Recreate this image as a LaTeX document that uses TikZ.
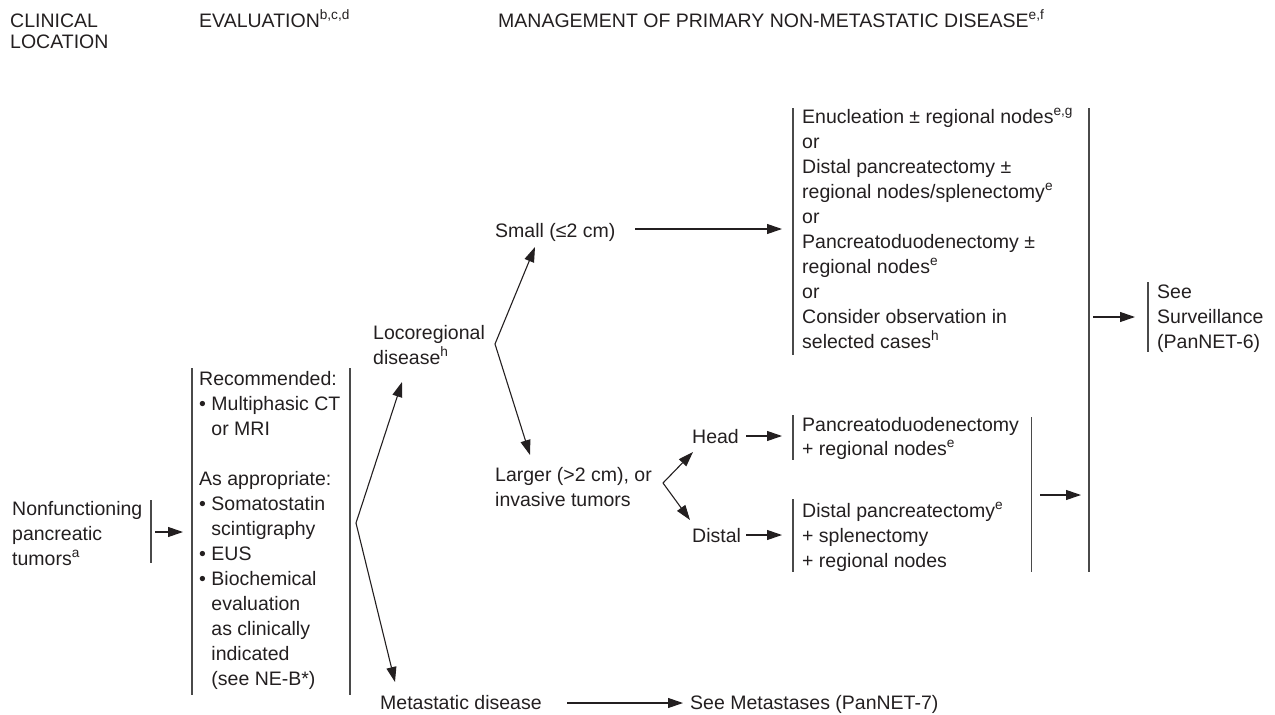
\documentclass[tikz,border=0pt]{standalone}
\usepackage{fontspec}
\setmainfont{Liberation Sans}
\usetikzlibrary{arrows.meta}
\definecolor{ink}{HTML}{231F20}
\definecolor{rulegray}{HTML}{4A4A4A}
% multi-line text block whose baseline is that of its first line
\newcommand{\mlines}[1]{\begin{tabular}[t]{@{}l@{}}#1\end{tabular}}
% indent matching a bullet and its space
\newcommand{\bul}{\hphantom{\textbullet\ }}

\begin{document}
\begin{tikzpicture}[x=1pt,y=-1pt,
  txt/.style={anchor=base west, inner sep=0pt, text=ink, font=\fontsize{19.5}{25}\selectfont},
  rule/.style={draw=rulegray, line width=1.1pt},
  arr/.style={draw=ink, line width=1.1pt, -{Triangle[length=15pt,width=10pt]}},
]
\useasboundingbox (0,0) rectangle (1275,715);

% column headings
\node[txt, font=\fontsize{19.5}{21.5}\selectfont] (hclin) at (10,27) {\mlines{CLINICAL\\LOCATION}};
\node[txt] (heval) at (199,27) {EVALUATION\textsuperscript{b,c,d}};
\node[txt] (hmgmt) at (498,27) {MANAGEMENT OF PRIMARY NON-METASTATIC DISEASE\textsuperscript{e,f}};

% text blocks
\node[txt] (tumors) at (12,515) {\mlines{Nonfunctioning\\pancreatic\\tumors\textsuperscript{a}}};
\node[txt] (evaltext) at (199,385) {\mlines{Recommended:\\ \textbullet\ Multiphasic CT\\ \bul or MRI\\ \\ As appropriate:\\ \textbullet\ Somatostatin\\ \bul scintigraphy\\ \textbullet\ EUS\\ \textbullet\ Biochemical\\ \bul evaluation\\ \bul as clinically\\ \bul indicated\\ \bul (see NE-B*)}};
\node[txt] (loco) at (373,339) {\mlines{Locoregional\\disease\textsuperscript{h}}};
\node[txt] (small) at (495,237) {Small (≤2 cm)};
\node[txt] (smallopts) at (802,123) {\mlines{Enucleation ± regional nodes\textsuperscript{e,g}\\or\\Distal pancreatectomy ±\\regional nodes/splenectomy\textsuperscript{e}\\or\\Pancreatoduodenectomy ±\\regional nodes\textsuperscript{e}\\or\\Consider observation in\\selected cases\textsuperscript{h}}};
\node[txt] (larger) at (495,481) {\mlines{Larger (>2 cm), or\\invasive tumors}};
\node[txt] (head) at (692,443) {Head};
\node[txt] (distal) at (692,542) {Distal};
\node[txt, font=\fontsize{19.5}{24}\selectfont] (headopts) at (802,431) {\mlines{Pancreatoduodenectomy\\+ regional nodes\textsuperscript{e}}};
\node[txt] (distopts) at (802,517) {\mlines{Distal pancreatectomy\textsuperscript{e}\\+ splenectomy\\+ regional nodes}};
\node[txt] (surv) at (1157,298) {\mlines{See\\Surveillance\\(PanNET-6)}};
\node[txt] (meta) at (380,709) {Metastatic disease};
\node[txt] (seemeta) at (690,709) {See Metastases (PanNET-7)};

% bracket rules
\coordinate (tb1) at (151,500);  \coordinate (tb2) at (151,563);
\coordinate (el1) at (192,368);  \coordinate (el2) at (192,695);
\coordinate (er1) at (350,368);  \coordinate (er2) at (350,695);
\coordinate (sb1) at (793,108);  \coordinate (sb2) at (793,355);
\coordinate (hb1) at (793,415);  \coordinate (hb2) at (793,460);
\coordinate (db1) at (793,499);  \coordinate (db2) at (793,572);
\coordinate (hd1) at (1031.5,417); \coordinate (hd2) at (1031.5,572);
\coordinate (bb1) at (1089,108); \coordinate (bb2) at (1089,572);
\coordinate (vb1) at (1148,282); \coordinate (vb2) at (1148,352);
\foreach \a/\b in {tb1/tb2, el1/el2, er1/er2, sb1/sb2, hb1/hb2, db1/db2, hd1/hd2, bb1/bb2, vb1/vb2}
  \draw[rule] (\a) -- (\b);

% forks
\coordinate (fk1) at (356,523);
\coordinate (fk1u) at (402,382);
\coordinate (fk1d) at (395,682);
\coordinate (fk2) at (495,344);
\coordinate (fk2u) at (535,247);
\coordinate (fk2d) at (530,455);
\coordinate (fk3) at (663,483);
\coordinate (fk3u) at (693,452);
\coordinate (fk3d) at (690,520);
\draw[arr] (fk1) -- (fk1u);
\draw[arr] (fk1) -- (fk1d);
\draw[arr] (fk2) -- (fk2u);
\draw[arr] (fk2) -- (fk2d);
\draw[arr] (fk3) -- (fk3u);
\draw[arr] (fk3) -- (fk3d);

% straight arrows
\coordinate (a1s) at (155,532);  \coordinate (a1e) at (183,532);
\coordinate (a2s) at (635,229);  \coordinate (a2e) at (782,229);
\coordinate (a3s) at (746,436);  \coordinate (a3e) at (782,436);
\coordinate (a4s) at (746,535);  \coordinate (a4e) at (782,535);
\coordinate (a5s) at (1040,495); \coordinate (a5e) at (1081,495);
\coordinate (a6s) at (1093,317); \coordinate (a6e) at (1135,317);
\coordinate (a7s) at (567,703);  \coordinate (a7e) at (683,703);
\foreach \a/\b in {a1s/a1e, a2s/a2e, a3s/a3e, a4s/a4e, a5s/a5e, a6s/a6e, a7s/a7e}
  \draw[arr] (\a) -- (\b);
\end{tikzpicture}
\end{document}
